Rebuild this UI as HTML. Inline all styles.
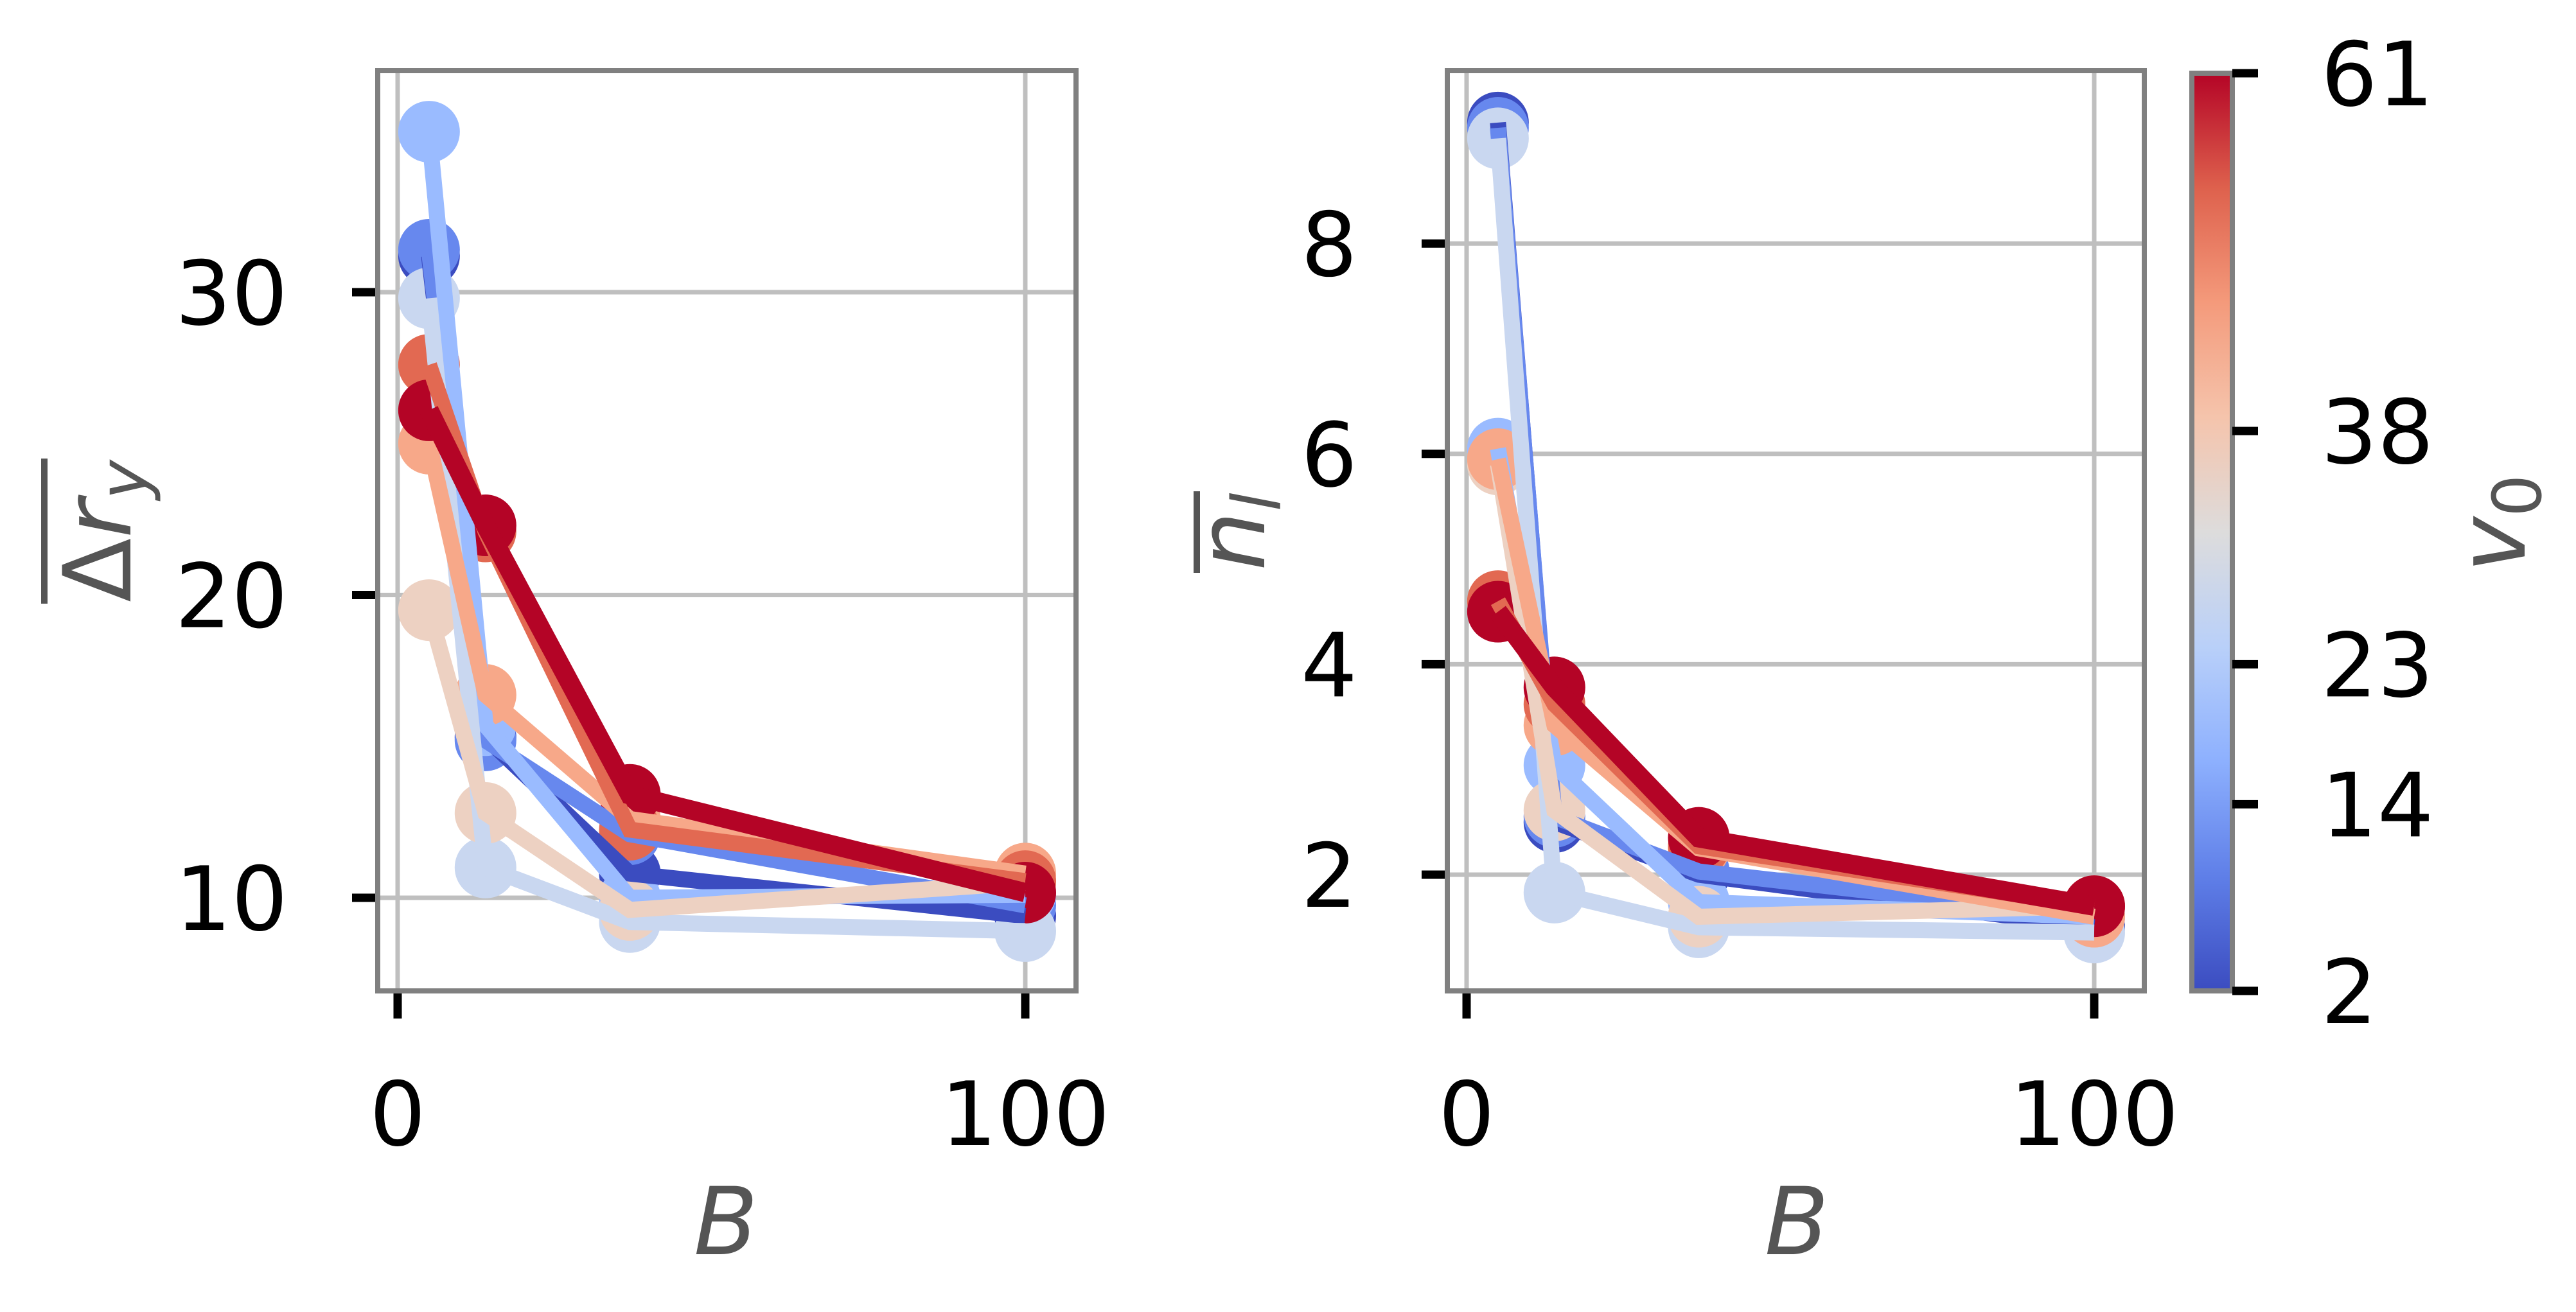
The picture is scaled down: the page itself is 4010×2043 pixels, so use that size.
<!DOCTYPE html>
<html><head><meta charset="utf-8"><style>
html,body{margin:0;padding:0;background:#fff;}
svg{display:block;font-family:"DejaVu Sans","Liberation Sans",sans-serif;}
</style></head><body>
<svg id="fig" xmlns="http://www.w3.org/2000/svg" width="4010" height="2043" viewBox="0 0 4010 2043">
<defs>
<linearGradient id="cw" x1="0" y1="1" x2="0" y2="0">
<stop offset="0" stop-color="#3b4cc0"/><stop offset="0.125" stop-color="#5f7fe8"/><stop offset="0.25" stop-color="#8db0fe"/><stop offset="0.375" stop-color="#b9d0f9"/><stop offset="0.5" stop-color="#dddcdc"/><stop offset="0.625" stop-color="#f5c4ac"/><stop offset="0.75" stop-color="#f49a7b"/><stop offset="0.875" stop-color="#de614d"/><stop offset="1" stop-color="#b40426"/>
</linearGradient>
</defs>
<g id="left"></g>
<g id="right"></g>
<g id="cbar"></g>
<line x1="69" y1="714" x2="69" y2="940" stroke="#555" stroke-width="10"/>
<text transform="translate(203,827) rotate(-90)" text-anchor="middle" font-size="146" fill="#555">Δ<tspan font-style="italic">r</tspan><tspan font-style="italic" font-size="104" dy="25">y</tspan></text>
<line x1="1863" y1="765" x2="1863" y2="892" stroke="#555" stroke-width="10"/>
<text transform="translate(1968,828) rotate(-90)" text-anchor="middle" font-size="146" fill="#555"><tspan font-style="italic">n</tspan><tspan font-style="italic" font-size="104" dy="25">l</tspan></text>
<text transform="translate(3930,815) rotate(-90)" text-anchor="middle" font-size="146" fill="#555"><tspan font-style="italic">v</tspan><tspan font-size="104" dy="25">0</tspan></text>
<text x="1130" y="1953" text-anchor="middle" font-size="146" font-style="italic" fill="#555">B</text>
<text x="2797" y="1953" text-anchor="middle" font-size="146" font-style="italic" fill="#555">B</text>
</svg>
<script>
const B = [5, 14, 37, 100];
const colors = ['#3b4cc0','#6788ee','#9abbff','#c9d7f0','#edd1c2','#f7a889','#e26952','#b40426'];
const drY_s0 = [31.2, 15.3, 10.8, 9.4];
const drY_s1 = [31.4, 15.2, 12.1, 9.75];
const drY_s2 = [35.3, 15.7, 10.0, 10.1];
const drY_s3 = [29.8, 11.0, 9.2, 8.9];
const drY_s4 = [19.5, 12.8, 9.6, 10.5];
const drY_s5 = [25.0, 16.7, 12.6, 10.8];
const drY_s6 = [27.6, 22.1, 12.25, 10.55];
const drY_s7 = [26.1, 22.3, 13.4, 10.17];
const nl_s0 = [9.15, 2.5, 2.0, 1.5];
const nl_s1 = [9.1, 2.55, 2.03, 1.6];
const nl_s2 = [6.05, 3.04, 1.74, 1.6];
const nl_s3 = [9.0, 1.83, 1.5, 1.45];
const nl_s4 = [5.9, 2.61, 1.6, 1.7];
const nl_s5 = [5.95, 3.42, 2.25, 1.6];
const nl_s6 = [4.6, 3.62, 2.27, 1.7];
const nl_s7 = [4.5, 3.78, 2.35, 1.7];
const leftTicks = [10, 20, 30];
const rightTicks = [2, 4, 6, 8];
const xTicks = [0, 100];
const cbTicks = [2, 14, 23, 38, 61];
const cbRange = [2, 61];

const NS='http://www.w3.org/2000/svg';
function mk(tag, attrs, parent){const e=document.createElementNS(NS,tag);for(const k in attrs)e.setAttribute(k,attrs[k]);parent.appendChild(e);return e;}

function panel(g, left, right, x0px, yref, yrefPx, ppu, series, yticks, name){
  const top=110, bottom=1543;
  const xs = v => x0px + v*9.77;
  const ys = v => yrefPx - (v-yref)*ppu;
  yticks.forEach(t=>{
    const l=mk('line',{x1:left,x2:right,y1:ys(t),y2:ys(t),stroke:'#bfbfbf','stroke-width':7},g);
    
    
    const tk=mk('line',{x1:left-40,x2:left,y1:ys(t),y2:ys(t),stroke:'#000','stroke-width':13},g);
    
    
    const tx=mk('text',{x:left-140,y:ys(t)+50,'text-anchor':'end','font-size':138,fill:'#000'},g);
    tx.textContent=t;
    
    
  });
  xTicks.forEach(t=>{
    const l=mk('line',{x1:xs(t),x2:xs(t),y1:top,y2:bottom,stroke:'#bfbfbf','stroke-width':7},g);
    
    
    const tk=mk('line',{x1:xs(t),x2:xs(t),y1:bottom,y2:bottom+43,stroke:'#000','stroke-width':13},g);
    
    
    const tx=mk('text',{x:xs(t),y:1783,'text-anchor':'middle','font-size':138,fill:'#000'},g);
    tx.textContent=t;
    
    
  });
  series.forEach((s,i)=>{
    s.forEach((v,j)=>{
      const c=mk('circle',{cx:xs(B[j]),cy:ys(v),r:48,fill:colors[i]},g);
      
      
    });
  });
  series.forEach((s,i)=>{
    const pts=s.map((v,j)=>xs(B[j])+','+ys(v)).join(' ');
    const p=mk('polyline',{points:pts,fill:'none',stroke:colors[i],'stroke-width':i===7?30:25,'stroke-linejoin':'miter'},g);
    
    
  });
  const sp=mk('rect',{x:left,y:top,width:right-left,height:bottom-top,fill:'none',stroke:'#808080','stroke-width':8},g);
  
  
}
panel(document.getElementById('left'),588,1675,619,10,1398,47.15,
  [drY_s0,drY_s1,drY_s2,drY_s3,drY_s4,drY_s5,drY_s6,drY_s7],leftTicks,'left');
panel(document.getElementById('right'),2253,3338,2283,2,1362,163.8,
  [nl_s0,nl_s1,nl_s2,nl_s3,nl_s4,nl_s5,nl_s6,nl_s7],rightTicks,'right');

const cb=document.getElementById('cbar');
const cTop=114, cBot=1543, cL=3412, cR=3475;
const cy=v=>cBot-(v-cbRange[0])/(cbRange[1]-cbRange[0])*(cBot-cTop);
const cr=mk('rect',{x:cL,y:cTop,width:cR-cL,height:cBot-cTop,fill:'url(#cw)',stroke:'#808080','stroke-width':8},cb);


cbTicks.forEach(t=>{
  const tk=mk('line',{x1:cR,x2:cR+40,y1:cy(t),y2:cy(t),stroke:'#000','stroke-width':13},cb);
  
  
  const tx=mk('text',{x:3613,y:cy(t)+50,'font-size':138,fill:'#000'},cb);
  tx.textContent=t;
  
  
});
</script>
</body></html>
